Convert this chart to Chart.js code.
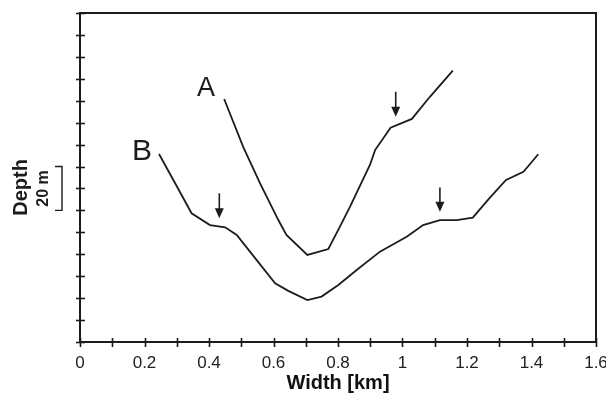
<!DOCTYPE html>
<html>
<head>
<meta charset="utf-8">
<script src="https://cdn.jsdelivr.net/npm/chart.js@4"></script>
<style>
    html, body { margin: 0; padding: 0; background: #fff; }
</style>
</head>
<body>
<canvas id="grafico" width="606" height="398"></canvas>
<script>
// ==========================
// DADOS (width em km, depth em m)
// ==========================
const widthA = [0.447, 0.506, 0.558, 0.615, 0.640, 0.705, 0.770, 0.806, 0.837, 0.899, 0.915, 0.963, 1.029, 1.085, 1.156];
const depthA = [39.2, 61.0, 77.6, 94.4, 101.2, 110.3, 107.6, 97.4, 88.4, 69.3, 62.5, 52.3, 48.3, 38.2, 26.3];

const widthB = [0.245, 0.295, 0.346, 0.403, 0.450, 0.486, 0.527, 0.605, 0.646, 0.705, 0.749, 0.801, 0.858, 0.930, 1.013, 1.064, 1.116, 1.168, 1.218, 1.269, 1.321, 1.375, 1.421];
const depthB = [64.3, 77.6, 91.3, 96.7, 97.7, 101.2, 108.8, 123.2, 126.7, 130.9, 129.3, 124.0, 117.2, 108.8, 102.0, 96.7, 94.4, 94.4, 93.3, 84.5, 76.1, 72.4, 64.4];

// setas (marcações)
const setaX = [0.979, 0.432, 1.116];
const setaTopo = [35.9, 82.2, 79.6];
const setaPonta = [47.3, 93.6, 90.6];

// rótulos das curvas
const rotulos = ["A", "B"];
const rotuloX = [0.391, 0.192];
const rotuloY = [34.2, 62.9];
const rotuloFonte = [27, 30];

// barra de escala (20 m)
const escala = [70, 90];

const xTicks = [0, 0.2, 0.4, 0.6, 0.8, 1, 1.2, 1.4, 1.6];

const COR = "#1c1c1c";
const FONTE = "'Liberation Sans', Arial, Helvetica, sans-serif";

function pontos(xs, ys) {
    return xs.map((v, i) => ({ x: v, y: ys[i] }));
}

// ==========================
// PLUGIN: moldura, ticks, setas, textos
// ==========================
const extras = {
    id: "extras",
    afterDraw(chart) {
        const ctx = chart.ctx;
        const sx = chart.scales.x;
        const sy = chart.scales.y;
        const area = chart.chartArea;

        ctx.save();
        ctx.strokeStyle = COR;
        ctx.fillStyle = COR;

        // moldura superior e direita
        ctx.lineWidth = 2;
        ctx.beginPath();
        ctx.moveTo(area.left, area.top);
        ctx.lineTo(area.right, area.top);
        ctx.lineTo(area.right, area.bottom);
        ctx.stroke();

        // ticks cruzando os eixos
        ctx.lineWidth = 1.6;
        for (let v = 0; v <= 1.6001; v += 0.1) {
            const px = Math.round(sx.getPixelForValue(v)) + 0.5;
            ctx.beginPath();
            ctx.moveTo(px, area.bottom - 4);
            ctx.lineTo(px, area.bottom + 5);
            ctx.stroke();
        }
        sy.ticks.forEach(t => {
            const py = Math.round(sy.getPixelForValue(t.value)) + 0.5;
            ctx.beginPath();
            ctx.moveTo(area.left - 4, py);
            ctx.lineTo(area.left + 5, py);
            ctx.stroke();
        });

        // setas
        ctx.lineWidth = 1.6;
        setaX.forEach((v, i) => {
            const px = sx.getPixelForValue(v);
            const y0 = sy.getPixelForValue(setaTopo[i]);
            const y1 = sy.getPixelForValue(setaPonta[i]);
            ctx.beginPath();
            ctx.moveTo(px, y0);
            ctx.lineTo(px, y1 - 8);
            ctx.stroke();
            ctx.beginPath();
            ctx.moveTo(px - 4.5, y1 - 10);
            ctx.lineTo(px + 4.5, y1 - 10);
            ctx.lineTo(px, y1);
            ctx.closePath();
            ctx.fill();
        });

        // rótulos A / B
        ctx.textAlign = "center";
        ctx.textBaseline = "middle";
        rotulos.forEach((r, i) => {
            ctx.font = rotuloFonte[i] + "px " + FONTE;
            ctx.fillText(r, sx.getPixelForValue(rotuloX[i]), sy.getPixelForValue(rotuloY[i]) + 1);
        });

        // barra de escala
        const ya = sy.getPixelForValue(escala[0]);
        const yb = sy.getPixelForValue(escala[1]);
        ctx.lineWidth = 1.4;
        ctx.beginPath();
        ctx.moveTo(55, ya);
        ctx.lineTo(62, ya);
        ctx.lineTo(62, yb);
        ctx.lineTo(55, yb);
        ctx.stroke();

        // textos rotacionados
        ctx.save();
        ctx.translate(21, (ya + yb) / 2 - 1);
        ctx.rotate(-Math.PI / 2);
        ctx.font = "bold 20px " + FONTE;
        ctx.fillText("Depth", 0, 0);
        ctx.restore();

        ctx.save();
        ctx.translate(44, (ya + yb) / 2);
        ctx.rotate(-Math.PI / 2);
        ctx.font = "bold 16px " + FONTE;
        ctx.fillText("20 m", 0, 0);
        ctx.restore();

        ctx.restore();
    }
};

// ==========================
// GRÁFICO
// ==========================
const grafico = new Chart(document.getElementById("grafico"), {
    type: "scatter",
    data: {
        datasets: [
            {
                label: "A",
                data: pontos(widthA, depthA),
                showLine: true,
                borderColor: COR,
                borderWidth: 1.8,
                pointRadius: 0,
                tension: 0
            },
            {
                label: "B",
                data: pontos(widthB, depthB),
                showLine: true,
                borderColor: COR,
                borderWidth: 1.8,
                pointRadius: 0,
                tension: 0
            }
        ]
    },
    options: {
        responsive: false,
        animation: false,
        layout: {
            padding: { top: 13, right: 10, left: 0, bottom: 0 }
        },
        plugins: {
            legend: { display: false },
            tooltip: { enabled: false }
        },
        scales: {
            x: {
                type: "linear",
                min: 0,
                max: 1.6,
                afterBuildTicks: s => { s.ticks = xTicks.map(v => ({ value: v })); },
                afterFit: s => {
                    s.height = 56;
                    s.paddingLeft = 0;
                    s.paddingRight = 0;
                },
                grid: { display: false },
                border: { display: true, color: COR, width: 2 },
                ticks: {
                    color: "#222",
                    padding: 3,
                    maxRotation: 0,
                    font: { family: FONTE, size: 17 },
                    callback: v => String(v)
                },
                title: {
                    display: true,
                    text: "Width [km]",
                    color: "#111",
                    padding: { top: 0, bottom: 3 },
                    font: { family: FONTE, size: 20, weight: "bold" }
                }
            },
            y: {
                type: "linear",
                min: 0,
                max: 150,
                reverse: true,
                afterFit: s => { s.width = 80; },
                grid: { display: false },
                border: { display: true, color: COR, width: 2 },
                ticks: { stepSize: 10, display: false }
            }
        }
    },
    plugins: [extras]
});
</script>
</body>
</html>
